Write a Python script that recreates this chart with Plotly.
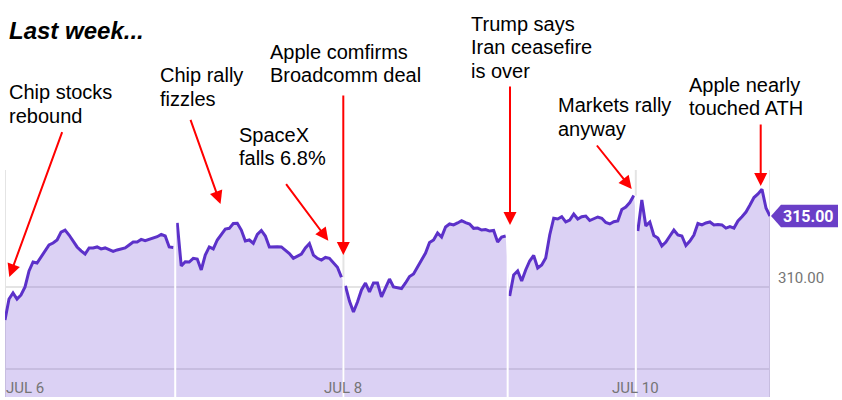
import plotly.graph_objects as go

# ---------------- data (price per sample, one list per trading day) ----------------
day_labels = ["JUL 6", "JUL 7", "JUL 8", "JUL 9", "JUL 10"]
labeled_days = ["JUL 6", "JUL 8", "JUL 10"]

jul6 = [307.68, 309.15, 309.58, 309.15, 309.44, 310.00, 311.13, 311.76, 311.69, 312.11,
        312.61, 312.96, 313.10, 313.31, 313.87, 314.01, 313.66, 313.24, 312.82, 312.54,
        312.32, 312.75, 312.75, 312.82, 312.68, 312.75, 312.61, 312.50, 312.61, 312.68,
        312.75, 312.96, 313.17, 313.17, 313.35, 313.26, 313.35, 313.42, 313.54, 313.70,
        313.59, 312.82, 312.78]
jul7 = [314.51, 311.48, 311.78, 311.76, 312.02, 311.97, 311.20, 312.25, 312.82, 312.68,
        313.31, 313.73, 314.08, 314.13, 314.47, 314.49, 314.01, 313.24, 313.31, 313.08,
        313.70, 313.98, 313.59, 312.82, 312.85, 312.84, 312.82, 312.61, 312.36, 312.02,
        312.18, 312.32, 312.75, 313.06, 312.25, 312.02, 311.90, 312.08, 312.02, 311.73,
        311.39, 310.68]
jul8 = [310.07, 309.01, 308.24, 308.94, 309.79, 310.28, 309.65, 310.28, 310.28, 309.30,
        309.93, 310.56, 310.00, 309.93, 309.89, 310.28, 310.74, 310.92, 311.37, 311.90,
        312.39, 313.13, 313.31, 313.80, 313.52, 314.23, 314.44, 314.37, 314.51, 314.67,
        314.53, 314.44, 314.13, 314.15, 314.01, 314.05, 313.94, 313.98, 313.17, 313.52,
        313.59]
jul9 = [309.37, 310.85, 311.13, 310.42, 311.20, 311.83, 312.22, 311.34, 311.55, 312.04,
        313.66, 314.84, 314.79, 314.95, 314.58, 314.72, 315.14, 314.79, 314.95, 315.00,
        314.68, 314.79, 314.93, 314.84, 314.54, 314.44, 314.60, 314.65, 315.46, 315.63,
        315.95, 316.44]
jul10 = [313.94, 316.13, 314.30, 314.58, 313.63, 313.45, 312.89, 313.17, 313.59, 314.01,
         313.66, 313.59, 312.92, 313.24, 313.66, 314.47, 314.37, 314.51, 314.58, 314.37,
         314.40, 314.37, 314.15, 314.25, 314.15, 314.65, 314.95, 315.28, 315.77, 316.30,
         316.55, 316.88, 315.56, 315.00]
days = [jul6, jul7, jul8, jul9, jul10]

y_ticks = [304.23, 310.00]
y_tick_text = ["", "310.00"]
last_price_text = "315.00"

title_text = "Last week..."
notes = [  # (lines, text left px, first line centre px)
    (["Chip stocks", "rebound"], 8, 92),
    (["Chip rally", "fizzles"], 158.5, 75),
    (["SpaceX", "falls 6.8%"], 237.5, 134.5),
    (["Apple comfirms", "Broadcomm deal"], 268.5, 51.5),
    (["Trump says", "Iran ceasefire", "is over"], 470, 23.5),
    (["Markets rally", "anyway"], 556.5, 105.5),
    (["Apple nearly", "touched ATH"], 687.5, 84.5),
]
arrows = [  # (tail px, tip px)
    ((62.7, 130.7), (9.3, 277)),
    ((190, 118.3), (220.5, 204)),
    ((285, 182.7), (328.3, 240.7)),
    ((343.3, 94), (343.3, 255)),
    ((510, 85), (510, 225)),
    ((595.7, 144), (631.7, 189)),
    ((760.7, 123), (760.7, 186)),
]

# ---------------- layout constants ----------------
W, H = 842, 400
ML, MR, MT, MB = 5, 72, 170, 3
PW, PH = W - ML - MR, H - MT - MB
Y_LO, Y_HI = 302.25, 318.24
LINE_SP = 23.5

LINE_COLOR = "#5c31c9"
FILL_COLOR = "rgba(112,72,212,0.25)"
LABEL_BG = "#6a3fc7"
GRID = "#e4e4e4"
TXT_GRAY = "#757575"
RED = "#ff0000"


def xp(px):
    return (px - ML) / PW


def yp(py):
    return (H - MB - py) / PH


# build x positions from point counts
starts = []
xs_all, ys_all, xs_line, ys_line = [], [], [], []
pos = 0
for d in days:
    starts.append(pos)
    for v in d:
        xs_all.append(pos)
        ys_all.append(v)
        xs_line.append(pos)
        ys_line.append(v)
        pos += 1
    xs_line.append(None)
    ys_line.append(None)
x_end = pos - 1

fig = go.Figure()
fig.add_trace(go.Scatter(x=xs_all, y=ys_all, mode="lines", line=dict(width=0),
                         fill="tozeroy", fillcolor=FILL_COLOR, hoverinfo="skip",
                         showlegend=False))
fig.add_trace(go.Scatter(x=xs_line, y=ys_line, mode="lines",
                         line=dict(color=LINE_COLOR, width=3), connectgaps=False,
                         showlegend=False))

shapes = []
# light gray vertical lines at labeled days and at the right edge
for i, lab in enumerate(day_labels):
    if lab in labeled_days:
        bx = 0 if i == 0 else starts[i] - 0.5
        shapes.append(dict(type="line", xref="x", yref="paper", x0=bx, x1=bx, y0=0, y1=1,
                           line=dict(color=GRID, width=2), layer="below"))
shapes.append(dict(type="line", xref="x", yref="paper", x0=x_end, x1=x_end, y0=0, y1=1,
                   line=dict(color=GRID, width=2), layer="below"))
# white day separators through the filled area
for i in range(1, len(days)):
    bx = starts[i] - 0.5
    top = max(days[i - 1][-1], days[i][0])
    shapes.append(dict(type="line", xref="x", yref="y", x0=bx, x1=bx, y0=Y_LO, y1=top,
                       line=dict(color="white", width=2), layer="above"))
# last price tag
shapes.append(dict(type="path", xref="paper", yref="y", xsizemode="pixel", ysizemode="pixel",
                   xanchor=1, yanchor=days[-1][-1],
                   path="M1,0 L11,11.3 L68,11.3 L68,-11.3 L11,-11.3 Z",
                   fillcolor=LABEL_BG, line=dict(width=0), layer="above"))

ann = []
ann.append(dict(text="<b><i>" + title_text + "</i></b>", xref="paper", yref="paper",
                x=xp(8), y=yp(30.5), xanchor="left", yanchor="middle", showarrow=False,
                borderpad=0, font=dict(family="Liberation Sans", size=24, color="black")))
for lines, lx, ly in notes:
    for k, t in enumerate(lines):
        ann.append(dict(text=t, xref="paper", yref="paper", x=xp(lx), y=yp(ly + k * LINE_SP),
                        xanchor="left", yanchor="middle", showarrow=False, borderpad=0,
                        font=dict(family="Liberation Sans", size=20, color="black")))
for (tx, ty), (hx, hy) in arrows:
    ann.append(dict(text="", xref="paper", yref="paper", x=xp(hx), y=yp(hy),
                    ax=tx - hx, ay=ty - hy, showarrow=True, arrowhead=2, arrowsize=1.3,
                    arrowwidth=2, arrowcolor=RED, standoff=0))
# date labels
for i, lab in enumerate(day_labels):
    if lab in labeled_days:
        if i == 0:
            ann.append(dict(text=lab, xref="x", yref="paper", x=0, y=yp(387.5),
                            xanchor="left", yanchor="middle", showarrow=False, borderpad=0,
                            font=dict(family="Roboto", size=15, color=TXT_GRAY)))
        else:
            ann.append(dict(text=lab, xref="x", yref="paper", x=starts[i] - 0.5, y=yp(387.5),
                            xanchor="center", yanchor="middle", showarrow=False, borderpad=0,
                            font=dict(family="Roboto", size=15, color=TXT_GRAY)))
# y labels
for v, t in zip(y_ticks, y_tick_text):
    if t:
        ann.append(dict(text=t, xref="paper", yref="y", x=1, y=v, xanchor="left",
                        yanchor="middle", xshift=7, yshift=9, showarrow=False, borderpad=0,
                        font=dict(family="Roboto", size=15, color=TXT_GRAY)))
ann.append(dict(text="<b>" + last_price_text + "</b>", xref="paper", yref="y", x=1,
                y=days[-1][-1], xanchor="center", yanchor="middle", xshift=38,
                showarrow=False, borderpad=0,
                font=dict(family="Roboto", size=16, color="white")))

fig.update_layout(
    width=W, height=H, margin=dict(l=ML, r=MR, t=MT, b=MB, pad=0),
    paper_bgcolor="white", plot_bgcolor="white", showlegend=False,
    shapes=shapes, annotations=ann,
    xaxis=dict(range=[0, x_end], showgrid=False, zeroline=False, showticklabels=False,
               ticks="", showline=False, fixedrange=True),
    yaxis=dict(range=[Y_LO, Y_HI], tickvals=y_ticks, showticklabels=False, showgrid=True,
               gridcolor=GRID, gridwidth=1.5, zeroline=False, ticks="", showline=False,
               fixedrange=True),
)

fig.write_html("out.html", config={"displayModeBar": False})
